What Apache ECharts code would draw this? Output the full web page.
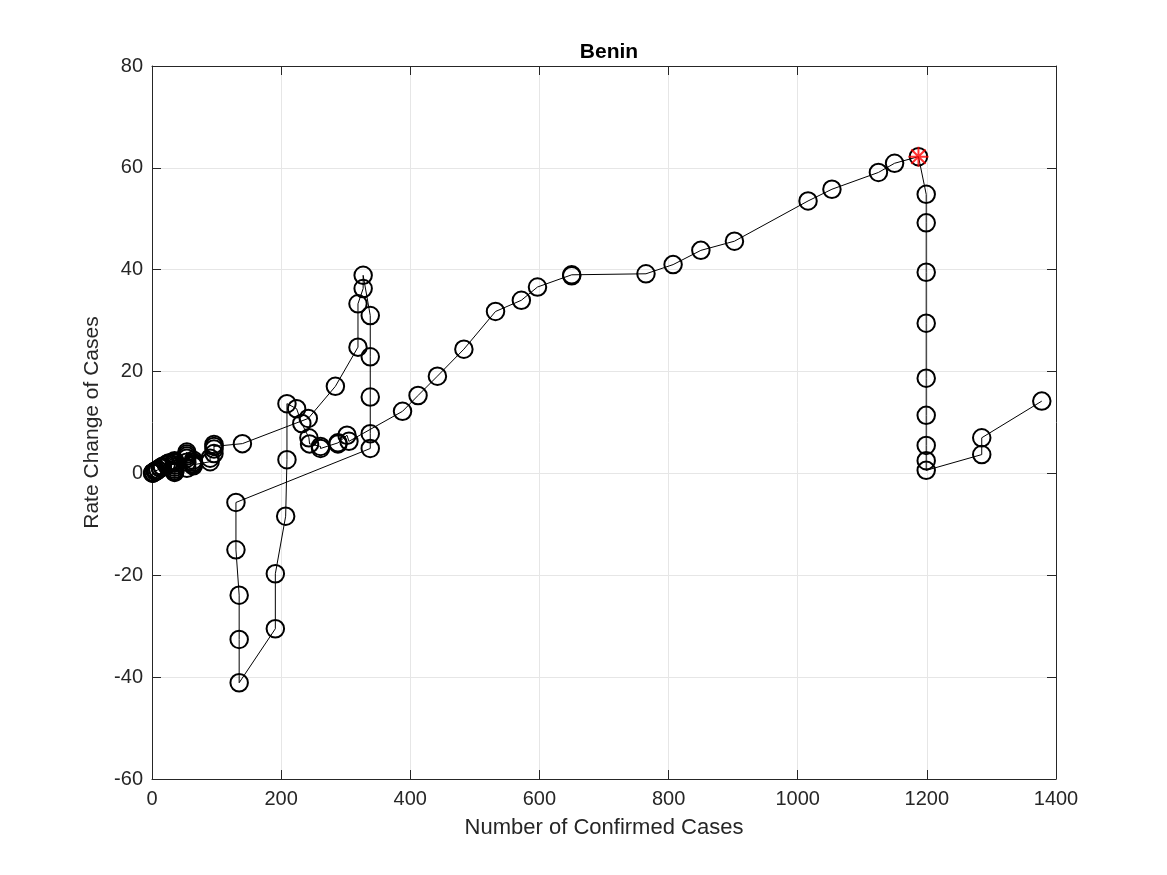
<!DOCTYPE html>
<html>
<head>
<meta charset="utf-8">
<script src="https://cdn.jsdelivr.net/npm/echarts@6/dist/echarts.min.js"></script>
<style>
  html, body { margin: 0; padding: 0; background: #fff; }
  #chart { width: 1167px; height: 875px; }
</style>
</head>
<body>
<div id="chart"></div>
<script>
// cumulative confirmed cases, in order of the trajectory
const confirmed = [
  1, 1, 2, 2, 2, 5, 6, 6, 6, 6, 6, 9, 9, 13, 13, 16, 16, 22, 26, 26, 26,
  35, 35, 35, 35, 35, 35, 35, 35, 35,
  54, 54, 54, 54, 54, 54,
  64, 64, 64, 64, 64,
  90, 90, 96, 96, 96, 96,
  140, 242, 284, 319, 319, 327, 327, 338, 338, 338, 338, 338,
  130, 130, 135, 135, 135, 191, 191, 207, 209, 209,
  224, 232, 243, 244, 261, 261, 288, 288, 302, 305,
  388, 412, 442, 483, 532, 572, 597, 650, 650, 765, 807, 850, 902,
  1016, 1053, 1125, 1150, 1187,
  1199, 1199, 1199, 1199, 1199, 1199, 1199, 1199, 1199,
  1285, 1285, 1378
];
// rate change of cases for each point above
const rate = [
  0.05, 0.05, 0.15, 0.2, 0.2, 0.45, 0.55, 0.55, 0.5, 0.45, 0.4, 0.7, 0.75, 1.05, 1.1, 1.3, 1.35, 1.75, 2.05, 2.0, 1.9,
  2.5, 2.3, 2.0, 1.6, 1.2, 0.8, 0.5, 0.3, 0.2,
  1.0, 2.2, 3.4, 4.2, 3.8, 3.0,
  2.6, 2.2, 1.9, 1.7, 1.5,
  2.3, 3.0, 3.9, 4.8, 5.7, 5.3,
  5.85, 10.8, 17.1, 24.8, 33.3, 36.3, 38.9, 31.0, 22.9, 15.0, 7.8, 4.9,
  -5.7, -15.0, -23.9, -32.6, -41.1, -30.5, -19.7, -8.4, 2.7, 13.7,
  12.7, 9.8, 7.0, 5.8, 5.3, 4.9, 6.0, 5.8, 7.5, 6.3,
  12.2, 15.3, 19.1, 24.4, 31.8, 34.0, 36.6, 39.0, 38.8, 39.2, 41.0, 43.8, 45.6,
  53.5, 55.8, 59.1, 60.9, 62.2,
  54.8, 49.2, 39.5, 29.5, 18.7, 11.4, 5.5, 2.5, 0.6,
  3.7, 7.0, 14.2
];
// highlighted point (red asterisk)
const markedCases = [1187];
const markedRate = [62.2];

const xTicks = { min: 0, max: 1400, interval: 200 };
const yTicks = { min: -60, max: 80, interval: 20 };

const font = 'Liberation Sans, Arial, Helvetica, sans-serif';
const axisColor = '#262626';
const gridColor = '#e6e6e6';

const chart = echarts.init(document.getElementById('chart'));

const baseAxis = {
  axisLine: { show: true, onZero: false, lineStyle: { color: axisColor, width: 1 } },
  axisTick: { show: true, inside: true, length: 9, lineStyle: { color: axisColor } },
};

chart.setOption({
  animation: false,
  backgroundColor: '#fff',
  title: {
    text: 'Benin',
    left: 604,
    textAlign: 'center',
    top: 37,
    textStyle: { fontFamily: font, fontSize: 21, fontWeight: 'bold', color: '#000' },
  },
  grid: { left: 152, right: 111, top: 66, bottom: 96 },
  xAxis: [
    {
      type: 'value',
      ...xTicks,
      ...baseAxis,
      name: 'Number of Confirmed Cases',
      nameLocation: 'middle',
      nameGap: 38,
      nameTextStyle: { fontFamily: font, fontSize: 22, color: '#262626' },
      axisLabel: { fontFamily: font, fontSize: 20, color: '#262626', margin: 10, formatter: (v) => String(v) },
      splitLine: { show: true, lineStyle: { color: gridColor } },
    },
    {
      type: 'value',
      position: 'top',
      ...xTicks,
      ...baseAxis,
      axisLabel: { show: false },
      splitLine: { show: false },
    },
  ],
  yAxis: [
    {
      type: 'value',
      ...yTicks,
      ...baseAxis,
      name: 'Rate Change of Cases',
      nameLocation: 'middle',
      nameGap: 49,
      nameTextStyle: { fontFamily: font, fontSize: 21, color: '#262626' },
      axisLabel: { fontFamily: font, fontSize: 20, color: '#262626', margin: 9, formatter: (v) => String(v) },
      splitLine: { show: true, lineStyle: { color: gridColor } },
    },
    {
      type: 'value',
      position: 'right',
      ...yTicks,
      ...baseAxis,
      axisLabel: { show: false },
      splitLine: { show: false },
    },
  ],
  series: [
    {
      name: 'trajectory',
      type: 'line',
      data: confirmed.map((c, i) => [c, rate[i]]),
      lineStyle: { color: '#000', width: 1 },
      symbol: 'circle',
      symbolSize: 17.5,
      showSymbol: true,
      itemStyle: { color: 'rgba(0,0,0,0)', borderColor: '#000', borderWidth: 2 },
    },
    {
      name: 'marked',
      type: 'scatter',
      data: markedCases.map((c, i) => [c, markedRate[i]]),
      symbol: 'path://M0,-10L0,10M-10,0L10,0M-7.1,-7.1L7.1,7.1M-7.1,7.1L7.1,-7.1',
      symbolSize: 20,
      itemStyle: { color: 'rgba(0,0,0,0)', borderColor: '#ff0000', borderWidth: 2 },
      z: 5,
    },
  ],
});
</script>
</body>
</html>
